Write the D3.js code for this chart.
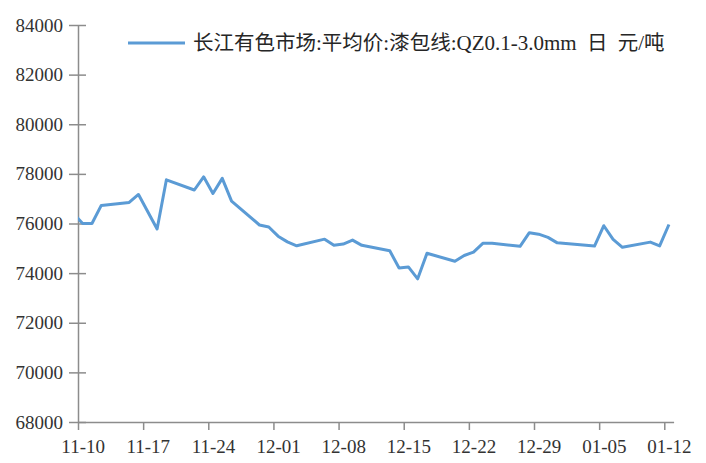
<!DOCTYPE html>
<html>
<head>
<meta charset="utf-8">
<script src="https://cdn.jsdelivr.net/npm/d3@7"></script>
<style>
  html, body { margin: 0; padding: 0; background: #fff; }
  svg { display: block; }
  .axis text { font-family: "Liberation Serif", "Times New Roman", serif; font-size: 19px; fill: #333; }
  .axis path, .axis line { stroke: #8c8c8c; stroke-width: 1.5; }
  .legend text { font-family: "Liberation Serif", "Noto Sans CJK SC", serif; fill: #262626; word-spacing: 5px; }
  .legend .cjk { font-family: "Noto Sans CJK SC", sans-serif; font-size: 20.5px; }
  .legend .latin { font-family: "Liberation Serif", serif; font-size: 21px; }
</style>
</head>
<body>
<svg id="chart" width="706" height="463"></svg>
<script>
// Daily average price of enamelled wire (QZ0.1-3.0mm), yuan per tonne
const dates = [
  "2021-11-09", "2021-11-10", "2021-11-11", "2021-11-12", "2021-11-15", "2021-11-16",
  "2021-11-18", "2021-11-19", "2021-11-22", "2021-11-23", "2021-11-24", "2021-11-25",
  "2021-11-26", "2021-11-29", "2021-11-30", "2021-12-01", "2021-12-02", "2021-12-03",
  "2021-12-06", "2021-12-07", "2021-12-08", "2021-12-09", "2021-12-10", "2021-12-13",
  "2021-12-14", "2021-12-15", "2021-12-16", "2021-12-17", "2021-12-20", "2021-12-21",
  "2021-12-22", "2021-12-23", "2021-12-24", "2021-12-27", "2021-12-28", "2021-12-29",
  "2021-12-30", "2021-12-31", "2022-01-04", "2022-01-05", "2022-01-06", "2022-01-07",
  "2022-01-10", "2022-01-11", "2022-01-12"
];
const prices = [
  76400, 76000, 76000, 76730, 76850, 77170,
  75780, 77760, 77350, 77880, 77210, 77820,
  76900, 75940, 75860, 75490, 75260, 75100,
  75370, 75120, 75170, 75330, 75120, 74900,
  74210, 74250, 73770, 74800, 74480, 74710,
  74850, 75200, 75200, 75080, 75630, 75570,
  75440, 75220, 75090, 75910, 75360, 75040,
  75250, 75100, 75960
];
const xTicks = [
  "2021-11-10", "2021-11-17", "2021-11-24", "2021-12-01", "2021-12-08",
  "2021-12-15", "2021-12-22", "2021-12-29", "2022-01-05", "2022-01-12"
];
const yTicks = [68000, 70000, 72000, 74000, 76000, 78000, 80000, 82000, 84000];
const xStart = "2021-11-10";
const xEnd = "2022-01-13";
const seriesName = "长江有色市场:平均价:漆包线:QZ0.1-3.0mm 日 元/吨";

const parse = d3.utcParse("%Y-%m-%d");
const fmt = d3.utcFormat("%m-%d");
const HALF_DAY = 12 * 3600 * 1000;

const svg = d3.select("#chart");
const plot = { left: 78, right: 673.6, top: 25, bottom: 422 };

const x = d3.scaleUtc()
  .domain([parse(xStart), parse(xEnd)])
  .range([plot.left, plot.right]);
const y = d3.scaleLinear()
  .domain([68000, 84000])
  .range([plot.bottom, plot.top]);

// Each day's value sits in the middle of its day slot
const points = dates.map((d, i) => ({ t: new Date(parse(d).getTime() + HALF_DAY), v: prices[i] }));

svg.append("clipPath").attr("id", "plot-clip")
  .append("rect")
  .attr("x", plot.left).attr("y", 0)
  .attr("width", plot.right - plot.left + 10).attr("height", plot.bottom);

// Y axis with ticks crossing the axis line
const yAxis = svg.append("g")
  .attr("class", "axis")
  .attr("transform", `translate(${plot.left},0)`)
  .call(d3.axisLeft(y).tickValues(yTicks).tickFormat(d3.format("d")).tickSize(9).tickPadding(6).tickSizeOuter(0));
yAxis.selectAll(".tick line").attr("x2", -9).attr("x1", 8);

// X axis: tick marks on day boundaries, labels centred on the day
const xAxis = svg.append("g")
  .attr("class", "axis")
  .attr("transform", `translate(0,${plot.bottom})`)
  .call(d3.axisBottom(x).tickValues(xTicks.map(parse)).tickFormat(fmt).tickSize(8).tickPadding(10).tickSizeOuter(0));
const halfDayPx = x(new Date(parse(xStart).getTime() + HALF_DAY)) - plot.left;
xAxis.selectAll(".tick text").attr("x", halfDayPx);

// Price line
const line = d3.line().x(d => x(d.t)).y(d => y(d.v));
svg.append("path")
  .datum(points)
  .attr("clip-path", "url(#plot-clip)")
  .attr("fill", "none")
  .attr("stroke", "#5b9bd5")
  .attr("stroke-width", 3)
  .attr("stroke-linejoin", "round")
  .attr("d", line);

// Legend: Chinese and Latin runs set in their own fonts
const legend = svg.append("g").attr("class", "legend");
legend.append("line")
  .attr("x1", 128).attr("x2", 185).attr("y1", 43).attr("y2", 43)
  .attr("stroke", "#5b9bd5").attr("stroke-width", 3);
const runs = seriesName.match(/[\u4e00-\u9fff]+|[^\u4e00-\u9fff]+/g);
legend.append("text")
  .attr("x", 193).attr("y", 50)
  .attr("xml:space", "preserve")
  .selectAll("tspan")
  .data(runs)
  .join("tspan")
  .attr("class", d => /[\u4e00-\u9fff]/.test(d) ? "cjk" : "latin")
  .text(d => d);
</script>
</body>
</html>
